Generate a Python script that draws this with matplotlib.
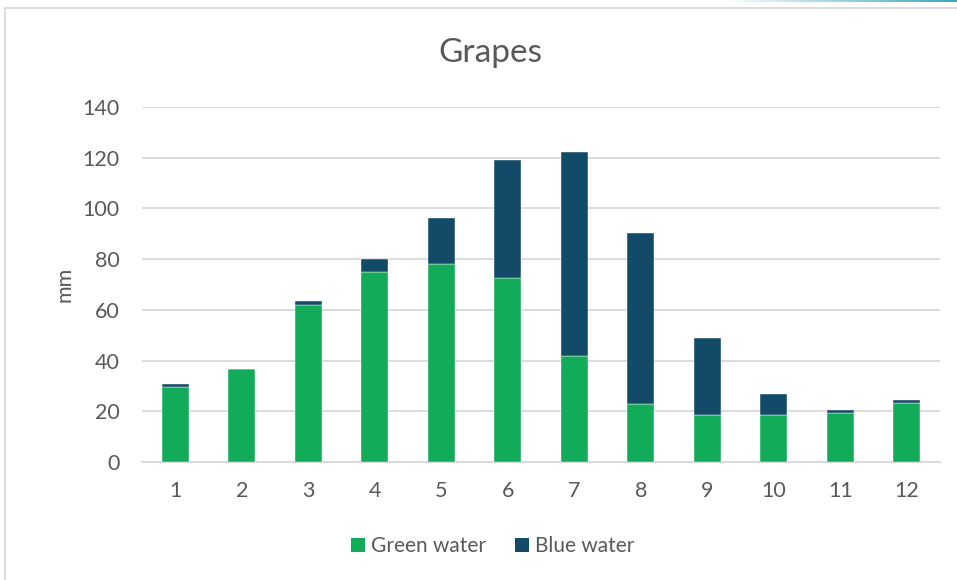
import matplotlib
matplotlib.use("Agg")
import matplotlib.pyplot as plt
from matplotlib.patches import Rectangle, Patch
from matplotlib.collections import LineCollection
from matplotlib.colors import LinearSegmentedColormap
import numpy as np

months = ["1", "2", "3", "4", "5", "6", "7", "8", "9", "10", "11", "12"]
green_water = [29.7, 36.7, 62.0, 74.8, 78.1, 72.6, 41.7, 22.7, 18.6, 18.6, 19.3, 23.2]
blue_water = [0.9, 0.0, 1.3, 5.4, 18.2, 46.4, 80.4, 67.5, 30.2, 8.2, 1.2, 1.1]
y_ticks = [0, 20, 40, 60, 80, 100, 120, 140]

GREEN = "#12AB5A"
BLUE = "#134A68"
TEXT = "#595959"
GRID = "#D9D9D9"

plt.rcParams["font.family"] = ["Lato", "DejaVu Sans"]

fig = plt.figure(figsize=(9.57, 5.80), dpi=100)
fig.patch.set_facecolor("white")

# outer chart frame (bottom edge runs off the canvas)
fig.add_artist(Rectangle((5 / 957, -0.05), 1.0, 1.05 - 8 / 580, transform=fig.transFigure,
                         fill=False, edgecolor="#D9D9D9", linewidth=1.3))

# thin accent strip along the top right
xs = np.linspace(720 / 957, 1.0, 60)
segs = [[(xs[i], 1 - 0.8 / 580), (xs[i + 1], 1 - 0.8 / 580)] for i in range(len(xs) - 1)]
accent = LinearSegmentedColormap.from_list("accent", ["#FFFFFF", "#9FD3E0", "#3AA9BE"])
lc = LineCollection(segs, colors=accent(np.linspace(0, 1, len(segs))), linewidths=1.5,
                    transform=fig.transFigure)
fig.add_artist(lc)

ax = fig.add_axes([142 / 957, 1 - 462 / 580, (940 - 142) / 957, (462 - 107) / 580])
x = np.arange(len(months))
ax.bar(x, green_water, width=0.4, color=GREEN, edgecolor="white", linewidth=0.3, zorder=3)
ax.bar(x, blue_water, width=0.4, bottom=green_water, color=BLUE, edgecolor="white",
       linewidth=0.3, zorder=3)

ax.set_xlim(-0.5, len(months) - 0.5)
ax.set_ylim(0, 140)
ax.set_yticks(y_ticks)
ax.set_xticks(x)
ax.set_xticklabels(months)
ax.yaxis.grid(True, color=GRID, linewidth=1.3, zorder=0)
ax.set_axisbelow(True)
for side in ["top", "right", "left"]:
    ax.spines[side].set_visible(False)
ax.spines["bottom"].set_color(GRID)
ax.spines["bottom"].set_linewidth(1.3)
ax.tick_params(axis="both", length=0, labelsize=15.5, labelcolor=TEXT)
ax.tick_params(axis="y", pad=16)
ax.tick_params(axis="x", pad=14)
ax.set_ylabel("mm", fontsize=15.5, color=TEXT, labelpad=6)

fig.text(490 / 957, 1 - 53 / 580, "Grapes", ha="center", va="center", fontsize=24, color=TEXT)

handles = [Patch(facecolor=GREEN, label="Green water"), Patch(facecolor=BLUE, label="Blue water")]
fig.legend(handles=handles, loc="center", bbox_to_anchor=(493 / 957, 1 - 546 / 580), ncol=2,
           frameon=False, fontsize=15, labelcolor=TEXT, handlelength=0.65, handleheight=0.65,
           handletextpad=0.3, columnspacing=1.4)

fig.savefig("out.png", dpi=100, facecolor="white")
